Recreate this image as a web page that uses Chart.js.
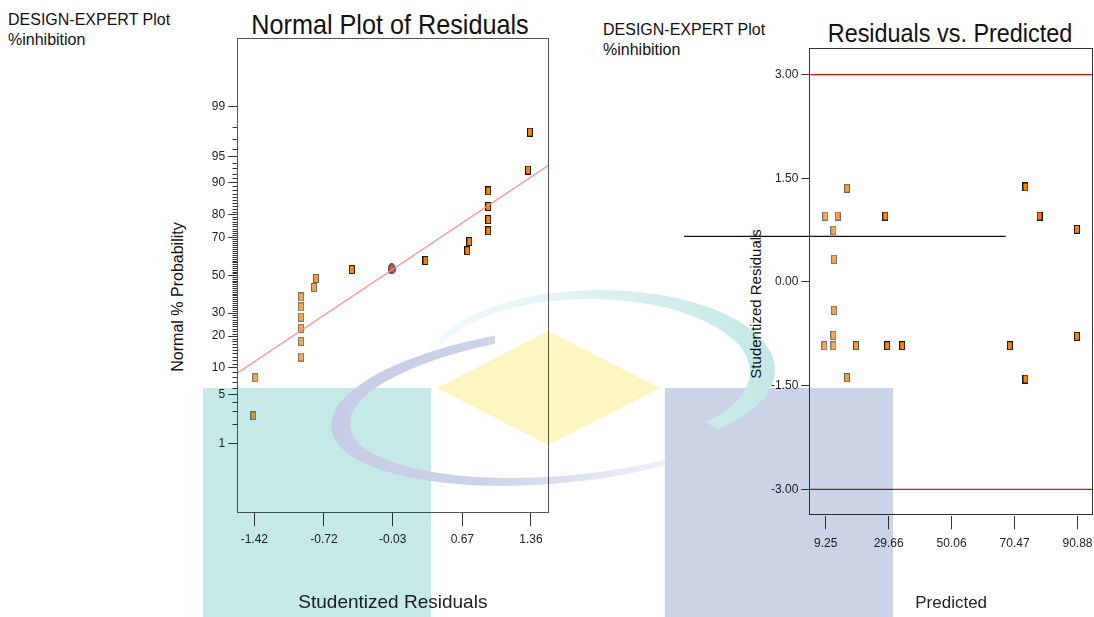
<!DOCTYPE html>
<html>
<head>
<meta charset="utf-8">
<script src="https://cdn.jsdelivr.net/npm/chart.js@4.4.1/dist/chart.umd.min.js"></script>
<style>
  html, body { margin: 0; padding: 0; background: #fff; }
  #page { position: relative; width: 1094px; height: 617px; overflow: hidden;
          font-family: 'Liberation Sans', Arial, sans-serif; color: #111; }
  .holder { position: absolute; top: 0; }
  .note { position: absolute; font-size: 16px; line-height: 20px; white-space: nowrap; }
  .title { position: absolute; font-size: 28px; line-height: 28px; white-space: nowrap; }
  .ytitle { position: absolute; white-space: nowrap; transform: translate(-50%, -50%) rotate(-90deg); }
  #wm { position: absolute; left: 0; top: 0; mix-blend-mode: multiply; pointer-events: none; }
</style>
</head>
<body>
<div id="page">
  <div class="note" style="left:8px; top:10px;">DESIGN-EXPERT Plot<br>%inhibition</div>
  <div class="note" style="left:603px; top:20px;">DESIGN-EXPERT Plot<br>%inhibition</div>
  <div class="title" style="left:390px; top:11px; transform: translateX(-50%) scaleX(0.9);">Normal Plot of Residuals</div>
  <div class="title" style="left:950px; top:19px; font-size:26px; transform: translateX(-50%) scaleX(0.9);">Residuals vs. Predicted</div>
  <div class="ytitle" style="left:178px; top:297px; font-size:16px;">Normal % Probability</div>
  <div class="ytitle" style="left:755px; top:304px; font-size:15px;">Studentized Residuals</div>

  <div class="holder" style="left:150px;"><canvas id="normal" width="420" height="617"></canvas></div>
  <div class="holder" style="left:660px;"><canvas id="resid" width="434" height="617"></canvas></div>
  <canvas id="wm" width="1094" height="617"></canvas>
</div>

<script>
// ---- Normal plot of residuals ----
const normResid = [-1.43, -1.41, -0.95, -0.95, -0.95, -0.95, -0.95, -0.95, -0.82, -0.80,
                   -0.44, 0.30, 0.72, 0.74, 0.93, 0.93, 0.93, 0.93, 1.33, 1.35];
const normProb  = [2.6, 7.8, 12.9, 18.0, 23.1, 28.1, 33.1, 38.2, 43.2, 48.2,
                   53.1, 58.0, 63.2, 67.9, 73.0, 77.9, 82.9, 87.8, 92.7, 97.6];
const midResid = [-0.04];
const midProb = [53.5];
const fitResid = [-1.597, 1.541];
const fitProb = [8.7, 93.6];
const residRange = [-1.597, 1.541];
const residTicks = [-1.42, -0.72, -0.03, 0.67, 1.36];
const probTicks = [1, 5, 10, 20, 30, 50, 70, 80, 90, 95, 99];
const probLimit = 3.283; // z range of the probability axis

// ---- Residuals vs predicted ----
const predicted = [9.12, 13.14, 16.16, 11.72, 11.94, 28.59, 74.01, 78.56, 90.69, 11.94,
                   11.72, 8.80, 11.72, 19.08, 29.14, 34.01, 16.16, 68.95, 74.01, 90.69];
const studResid = [0.955, 0.955, 1.356, 0.748, 0.329, 0.955, 1.375, 0.955, 0.763, -0.410,
                   -0.771, -0.922, -0.922, -0.922, -0.922, -0.922, -1.385, -0.922, -1.404, -0.786];
const predRange = [3.93, 95.9];
const predTicks = [9.25, 29.66, 50.06, 70.47, 90.88];
const studTicks = [-3, -1.5, 0, 1.5, 3];
const studRange = [-3.382, 3.382];
const limitLines = [3, -3];
const strayX = [-36.7, 67.6];
const strayY = [0.661, 0.661];

const tickFont = { family: "'Liberation Sans', Arial, sans-serif", size: 12 };
const titleFont = { family: "'Liberation Sans', Arial, sans-serif", size: 19 };

// inverse normal cdf (Acklam)
function probit(p) {
  const a = [-3.969683028665376e+01, 2.209460984245205e+02, -2.759285104469687e+02, 1.383577518672690e+02, -3.066479806614716e+01, 2.506628277459239e+00];
  const b = [-5.447609879822406e+01, 1.615858368580409e+02, -1.556989798598866e+02, 6.680131188771972e+01, -1.328068155288572e+01];
  const c = [-7.784894002430293e-03, -3.223964580411365e-01, -2.400758277161838e+00, -2.549732539343734e+00, 4.374664141464968e+00, 2.938163982698783e+00];
  const d = [7.784695709041462e-03, 3.224671290700398e-01, 2.445134137142996e+00, 3.754408661907416e+00];
  const pl = 0.02425;
  let q, r;
  if (p < pl) {
    q = Math.sqrt(-2 * Math.log(p));
    return (((((c[0]*q+c[1])*q+c[2])*q+c[3])*q+c[4])*q+c[5]) / ((((d[0]*q+d[1])*q+d[2])*q+d[3])*q+1);
  }
  if (p > 1 - pl) {
    q = Math.sqrt(-2 * Math.log(1 - p));
    return -(((((c[0]*q+c[1])*q+c[2])*q+c[3])*q+c[4])*q+c[5]) / ((((d[0]*q+d[1])*q+d[2])*q+d[3])*q+1);
  }
  q = p - 0.5; r = q * q;
  return (((((a[0]*r+a[1])*r+a[2])*r+a[3])*r+a[4])*r+a[5])*q / (((((b[0]*r+b[1])*r+b[2])*r+b[3])*r+b[4])*r+1);
}

// marker images, shaded light -> dark orange like Design-Expert
const markerCache = {};
function mix(c1, c2, t) {
  return 'rgb(' + c1.map((v, i) => Math.round(v + (c2[i] - v) * t)).join(',') + ')';
}
function rectMarker(t) {
  const key = Math.round(t * 10);
  if (markerCache[key]) return markerCache[key];
  const k = key / 10;
  const cv = document.createElement('canvas');
  cv.width = 6; cv.height = 9;
  const g = cv.getContext('2d');
  g.fillStyle = mix([120, 120, 120], [20, 20, 20], k);
  g.fillRect(0, 0, 6, 9);
  g.fillStyle = mix([255, 166, 70], [255, 128, 0], k);
  g.fillRect(1, 1, 4, 7);
  markerCache[key] = cv;
  return cv;
}
function ovalMarker() {
  const cv = document.createElement('canvas');
  cv.width = 8; cv.height = 11;
  const g = cv.getContext('2d');
  g.beginPath();
  g.ellipse(4, 5.5, 3.3, 4.8, 0, 0, Math.PI * 2);
  g.fillStyle = '#c65a5a';
  g.fill();
  g.lineWidth = 1.2;
  g.strokeStyle = '#3a2a2a';
  g.stroke();
  return cv;
}
const clamp = v => Math.max(0, Math.min(1, v));

// keep the plot box where it is, whatever the tick labels want
function fixX(h) {
  return s => { s.height = h; s.paddingLeft = 0; s.paddingRight = 0; };
}
function fixY(w) {
  return s => { s.width = w; s.paddingTop = 0; s.paddingBottom = 0; };
}

const framePlugin = {
  id: 'frame',
  afterDraw(chart, args, opts) {
    const { ctx, chartArea: a } = chart;
    ctx.save();
    ctx.strokeStyle = opts.color || '#444';
    ctx.lineWidth = 1;
    ctx.strokeRect(Math.round(a.left) + 0.5, Math.round(a.top) + 0.5,
                   Math.round(a.right - a.left) - 1, Math.round(a.bottom - a.top) - 1);
    ctx.restore();
  }
};

const minorTicks = {
  id: 'minorTicks',
  afterDraw(chart) {
    const y = chart.scales.y;
    const ctx = chart.ctx;
    const left = Math.round(chart.chartArea.left);
    ctx.save();
    ctx.strokeStyle = '#333';
    ctx.lineWidth = 1;
    ctx.beginPath();
    for (let p = 1; p <= 99; p++) {
      if (probTicks.includes(p)) continue;
      const py = Math.round(y.getPixelForValue(probit(p / 100))) + 0.5;
      ctx.moveTo(left - 4.5, py);
      ctx.lineTo(left, py);
    }
    ctx.stroke();
    ctx.restore();
  }
};

// small radius so the image markers do not push the plot box in
const markerOpts = { pointRadius: 0.5, pointBorderWidth: 0, pointHoverRadius: 0.5 };

// ---------- left chart ----------
new Chart(document.getElementById('normal'), {
  type: 'scatter',
  data: {
    datasets: [
      {
        data: fitResid.map((x, i) => ({ x: x, y: probit(fitProb[i] / 100) })),
        showLine: true, borderColor: '#ff8a8a', borderWidth: 1.3, pointRadius: 0
      },
      Object.assign({
        data: normResid.map((x, i) => ({ x: x, y: probit(normProb[i] / 100) })),
        pointStyle: ctx => rectMarker(clamp((ctx.raw.x + 0.9) / 0.6))
      }, markerOpts),
      Object.assign({
        data: midResid.map((x, i) => ({ x: x, y: probit(midProb[i] / 100) })),
        pointStyle: ovalMarker()
      }, markerOpts)
    ]
  },
  options: {
    responsive: false, animation: false, devicePixelRatio: 1,
    layout: { padding: { top: 37.7, right: 21, left: 0, bottom: 0 } },
    plugins: { legend: { display: false }, tooltip: { enabled: false }, frame: { color: '#555' } },
    scales: {
      x: {
        type: 'linear', min: residRange[0], max: residRange[1],
        afterBuildTicks: s => { s.ticks = residTicks.map(v => ({ value: v })); },
        afterFit: fixX(104.3),
        ticks: { callback: v => v.toFixed(2), font: tickFont, color: '#222', padding: 6, maxRotation: 0, autoSkip: false },
        grid: { drawOnChartArea: false, drawTicks: true, tickLength: 13.5, tickColor: '#333' },
        border: { display: false },
        title: { display: true, text: 'Studentized Residuals', font: titleFont, color: '#222', padding: { top: 0, bottom: 3 } }
      },
      y: {
        type: 'linear', min: -probLimit, max: probLimit,
        afterBuildTicks: s => { s.ticks = probTicks.map(p => ({ value: probit(p / 100) })); },
        afterFit: fixY(86.7),
        ticks: { callback: (v, i) => String(probTicks[i]), font: tickFont, color: '#222', padding: 3, autoSkip: false },
        grid: { drawOnChartArea: false, drawTicks: true, tickLength: 8.5, tickColor: '#333' },
        border: { display: false }
      }
    }
  },
  plugins: [framePlugin, minorTicks]
});

// ---------- right chart ----------
new Chart(document.getElementById('resid'), {
  type: 'scatter',
  data: {
    datasets: [
      {
        data: predRange.map(x => ({ x: x, y: limitLines[0] })),
        showLine: true, borderColor: '#e01414', borderWidth: 1.2, pointRadius: 0
      },
      {
        data: predRange.map(x => ({ x: x, y: limitLines[1] })),
        showLine: true, borderColor: '#e01414', borderWidth: 1.2, pointRadius: 0
      },
      {
        data: strayX.map((x, i) => ({ x: x, y: strayY[i] })),
        showLine: true, borderColor: '#111', borderWidth: 1.2, pointRadius: 0, clip: false
      },
      Object.assign({
        data: predicted.map((x, i) => ({ x: x, y: studResid[i] })),
        pointStyle: ctx => rectMarker(clamp((ctx.raw.x - 12) / 18))
      }, markerOpts)
    ]
  },
  options: {
    responsive: false, animation: false, devicePixelRatio: 1,
    layout: { padding: { top: 48.3, right: 1, left: 0, bottom: 0 } },
    plugins: { legend: { display: false }, tooltip: { enabled: false }, frame: { color: '#333' } },
    scales: {
      x: {
        type: 'linear', min: predRange[0], max: predRange[1],
        afterBuildTicks: s => { s.ticks = predTicks.map(v => ({ value: v })); },
        afterFit: fixX(101.3),
        ticks: { callback: v => v.toFixed(2), font: tickFont, color: '#222', padding: 7, maxRotation: 0, autoSkip: false },
        grid: { drawOnChartArea: false, drawTicks: true, tickLength: 13.6, tickColor: '#333' },
        border: { display: false },
        title: { display: true, text: 'Predicted', font: { family: titleFont.family, size: 17 }, color: '#222', padding: { top: 0, bottom: 3 } }
      },
      y: {
        type: 'linear', min: studRange[0], max: studRange[1],
        afterBuildTicks: s => { s.ticks = studTicks.map(v => ({ value: v })); },
        afterFit: fixY(149.3),
        ticks: { callback: v => v.toFixed(2), font: tickFont, color: '#222', padding: 3, autoSkip: false },
        grid: { drawOnChartArea: false, drawTicks: true, tickLength: 8, tickColor: '#333' },
        border: { display: false }
      }
    }
  },
  plugins: [framePlugin]
});

// ---------- watermark (background logo of the source page) ----------
const wm = document.getElementById('wm').getContext('2d');
wm.fillStyle = '#c5e9e6';
wm.fillRect(203, 388, 228, 229);
wm.fillStyle = '#cbd3e6';
wm.fillRect(665, 388, 228, 229);
wm.fillStyle = '#fdf5c0';
wm.beginPath();
wm.moveTo(437, 388); wm.lineTo(548, 331); wm.lineTo(660, 388); wm.lineTo(548, 445);
wm.closePath();
wm.fill();

function ring(o, i, fill, clipPts) {
  wm.save();
  wm.beginPath();
  clipPts.forEach((p, k) => k ? wm.lineTo(p[0], p[1]) : wm.moveTo(p[0], p[1]));
  wm.closePath();
  wm.clip();
  const path = new Path2D();
  path.ellipse(o[0], o[1], o[2], o[3], o[4], 0, Math.PI * 2);
  const inner = new Path2D();
  inner.ellipse(i[0], i[1], i[2], i[3], i[4], 0, Math.PI * 2);
  path.addPath(inner);
  wm.fillStyle = fill;
  wm.fill(path, 'evenodd');
  wm.restore();
}
// blue swoosh on the left, fading towards its two ends
const blueFade = wm.createLinearGradient(330, 0, 665, 0);
blueFade.addColorStop(0, '#c6cce5');
blueFade.addColorStop(0.45, '#cdd2e8');
blueFade.addColorStop(1, '#eef0f8');
ring([560, 405, 230, 78, -0.1], [570, 404, 221, 71, -0.1], blueFade,
     [[300, 250], [495, 250], [495, 395], [665, 425], [665, 520], [300, 520]]);
// teal swoosh on the upper right, faint on top
const tealFade = wm.createLinearGradient(440, 0, 775, 0);
tealFade.addColorStop(0, '#f1f9f9');
tealFade.addColorStop(0.5, '#dcf1f0');
tealFade.addColorStop(1, '#c2e7e4');
ring([600, 370, 175, 80, 0], [590, 372, 160, 73, 0], tealFade,
     [[440, 250], [800, 250], [800, 430], [720, 430], [560, 345], [440, 345]]);
</script>
</body>
</html>
